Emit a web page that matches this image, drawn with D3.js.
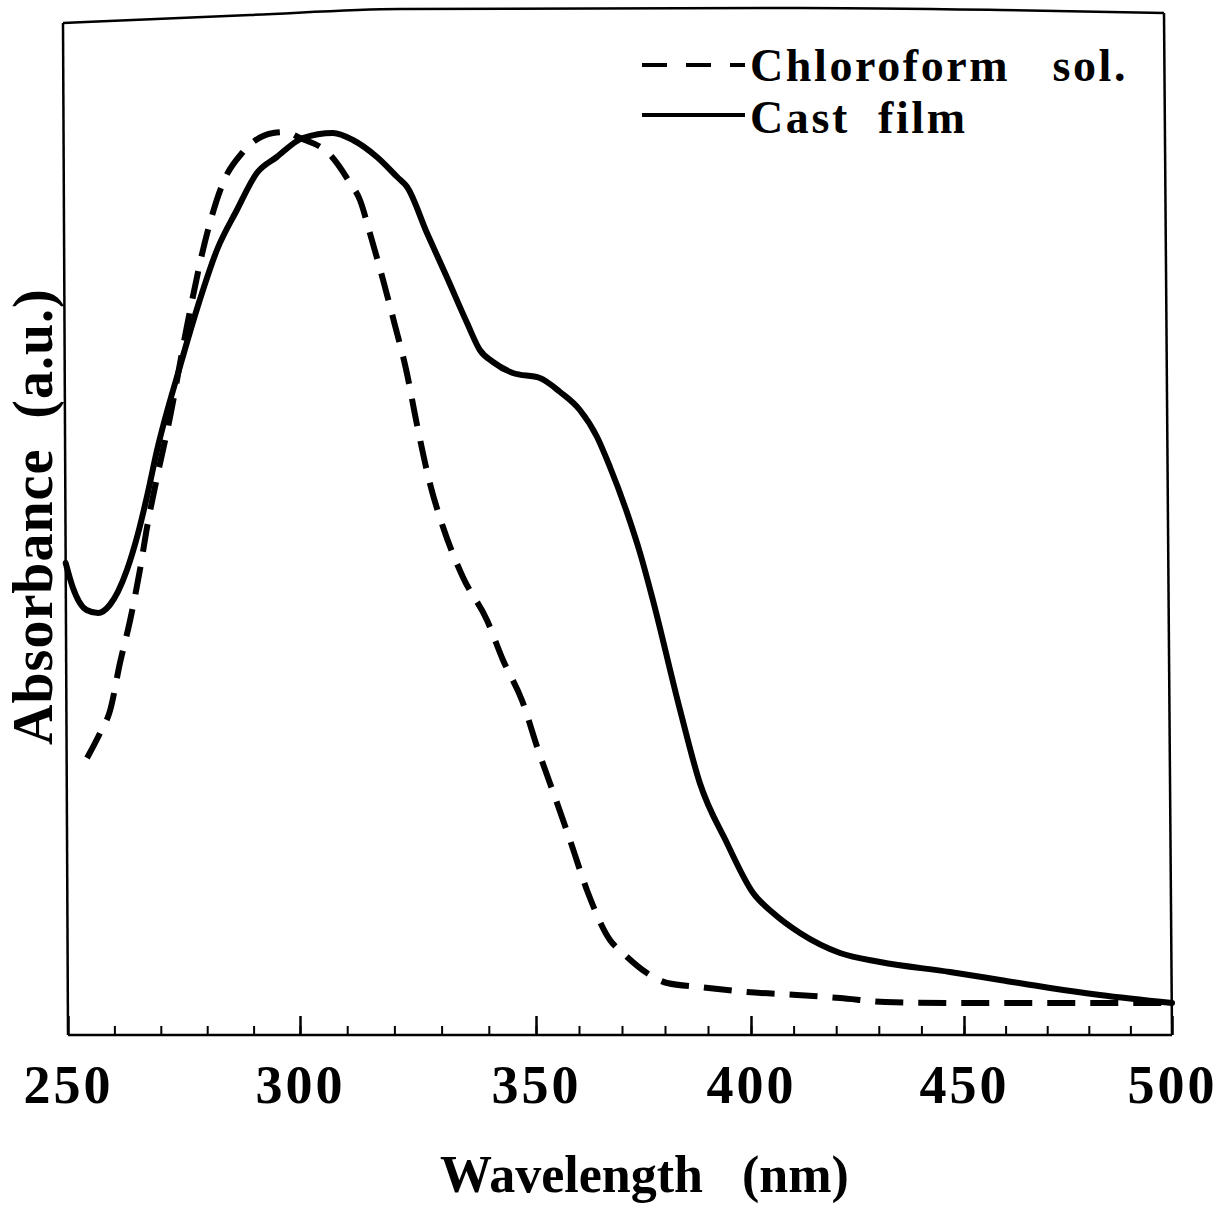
<!DOCTYPE html>
<html>
<head>
<meta charset="utf-8">
<script src="https://cdn.jsdelivr.net/npm/d3@7"></script>
<style>
  html, body { margin: 0; padding: 0; background: #fff; }
  svg text { font-family: "Liberation Serif", "Times New Roman", serif; font-weight: bold; fill: #000; white-space: pre; }
</style>
</head>
<body>
<svg id="chart" width="1216" height="1215"></svg>
<script>
// ---- data ----
const castWl  = [249.5, 251, 254, 256.5, 259, 262.7, 265, 267, 269.2, 274.1, 278.4, 282.1, 286.4, 290.7, 295, 300.6, 307, 311.2, 316.3, 320.6, 322.7, 326.9, 331.1, 335.4, 338.1, 340.9, 345.1, 350.9, 355.6, 360.2, 364.2, 367.2, 371.2, 374.2, 377, 383.5, 388.1, 394.4, 400.5, 405.2, 411.5, 420.9, 430.3, 446.7, 458.7, 470.7, 482.7, 500];
const castAbs = [0.472, 0.448, 0.425, 0.422, 0.430, 0.465, 0.500, 0.538, 0.585, 0.668, 0.735, 0.785, 0.825, 0.862, 0.878, 0.897, 0.902, 0.895, 0.878, 0.858, 0.848, 0.802, 0.758, 0.712, 0.685, 0.673, 0.662, 0.657, 0.643, 0.625, 0.598, 0.568, 0.522, 0.482, 0.438, 0.325, 0.252, 0.192, 0.142, 0.122, 0.102, 0.082, 0.073, 0.063, 0.055, 0.047, 0.040, 0.032];

const solWl  = [254.1, 256.9, 259.1, 261.2, 263.4, 265.5, 267.2, 269.2, 272, 275.6, 280, 283.4, 287.7, 294.2, 296.8, 300, 306.4, 310.6, 312.7, 314.8, 317.6, 320.1, 322.5, 324.8, 327.5, 330.3, 334.5, 339.6, 343, 347, 350.5, 354.4, 357.9, 362.1, 367.2, 370.2, 375.8, 380.5, 388.1, 399.1, 410.8, 420.9, 431.5, 446.7, 470.7, 500];
const solAbs = [0.277, 0.302, 0.325, 0.372, 0.415, 0.465, 0.512, 0.558, 0.618, 0.708, 0.802, 0.852, 0.883, 0.902, 0.903, 0.897, 0.880, 0.852, 0.835, 0.802, 0.755, 0.710, 0.665, 0.610, 0.552, 0.508, 0.458, 0.415, 0.375, 0.335, 0.285, 0.238, 0.195, 0.142, 0.095, 0.082, 0.062, 0.052, 0.048, 0.043, 0.040, 0.037, 0.033, 0.032, 0.032, 0.032];

const majorTicks = [250, 300, 350, 400, 450, 500];
const minorTicks = d3.range(260, 500, 10);
const seriesNames = ["Chloroform   sol.", "Cast  film"];
const xTitle = "Wavelength   (nm)";
const yTitle = "Absorbance  (a.u.)";

// ---- scales (polylinear to follow the scanned axis) ----
const svg = d3.select("#chart");
const x = d3.scaleLinear().domain(majorTicks).range([68, 300, 536, 751, 964, 1172]);
const y = d3.scaleLinear().domain([0, 1]).range([1035, 35]);
const axisY = y(0);

// frame
svg.append("path")
  .attr("d", d3.line().curve(d3.curveMonotoneX)([[63,23],[250,15],[400,9],[800,8],[1000,10],[1164,13]]))
  .attr("fill", "none").attr("stroke", "#000").attr("stroke-width", 2.5);
svg.append("line").attr("x1", 1164).attr("y1", 13).attr("x2", x(500)).attr("y2", axisY)
  .attr("stroke", "#000").attr("stroke-width", 2.5);
svg.append("line").attr("x1", 63).attr("y1", 23).attr("x2", x(250)).attr("y2", axisY)
  .attr("stroke", "#000").attr("stroke-width", 2.5);

// minor ticks
const gMinor = svg.append("g").attr("transform", `translate(0,${axisY})`)
  .call(d3.axisBottom(x).tickValues(minorTicks).tickSizeInner(-9).tickSizeOuter(0).tickFormat(""));
gMinor.select(".domain").remove();
gMinor.selectAll("line").attr("stroke-width", 2);

// major ticks with labels
const gMajor = svg.append("g").attr("transform", `translate(0,${axisY})`)
  .call(d3.axisBottom(x).tickValues(majorTicks).tickSizeInner(-19).tickSizeOuter(0).tickPadding(30).tickFormat(d3.format("d")));
gMajor.select(".domain").attr("stroke-width", 2.5).attr("d", `M${x(250)},0H${x(500)}`);
gMajor.selectAll("line").attr("stroke-width", 2.5);
gMajor.selectAll("text").attr("font-size", 54).attr("letter-spacing", 3)
  .style("font-family", '"Liberation Serif", serif').style("font-weight", "bold");

// curves
const line = d3.line().x(d => x(d[0])).y(d => y(d[1])).curve(d3.curveMonotoneX);
svg.append("path").datum(castWl.map((w, i) => [w, castAbs[i]]))
  .attr("d", line).attr("fill", "none").attr("stroke", "#000").attr("stroke-width", 6)
  .attr("stroke-linejoin", "round").attr("stroke-linecap", "round");
svg.append("path").datum(solWl.map((w, i) => [w, solAbs[i]]))
  .attr("d", line).attr("fill", "none").attr("stroke", "#000").attr("stroke-width", 6)
  .attr("stroke-dasharray", "28,15");

// legend
const legend = svg.append("g");
legend.append("line").attr("x1", 642).attr("x2", 745).attr("y1", 65).attr("y2", 65)
  .attr("stroke", "#000").attr("stroke-width", 4).attr("stroke-dasharray", "25,19");
legend.append("line").attr("x1", 642).attr("x2", 745).attr("y1", 115).attr("y2", 115)
  .attr("stroke", "#000").attr("stroke-width", 4);
legend.append("text").attr("x", 750).attr("y", 81).attr("font-size", 46).attr("letter-spacing", 2.6).text(seriesNames[0]);
legend.append("text").attr("x", 750).attr("y", 133).attr("font-size", 46).attr("letter-spacing", 2.6).text(seriesNames[1]);

// axis titles
svg.append("text").attr("x", 440).attr("y", 1192).attr("font-size", 52).text(xTitle);
svg.append("text").attr("transform", "translate(52,745) rotate(-90)")
  .attr("font-size", 56).attr("letter-spacing", 1).text(yTitle);
</script>
</body>
</html>
